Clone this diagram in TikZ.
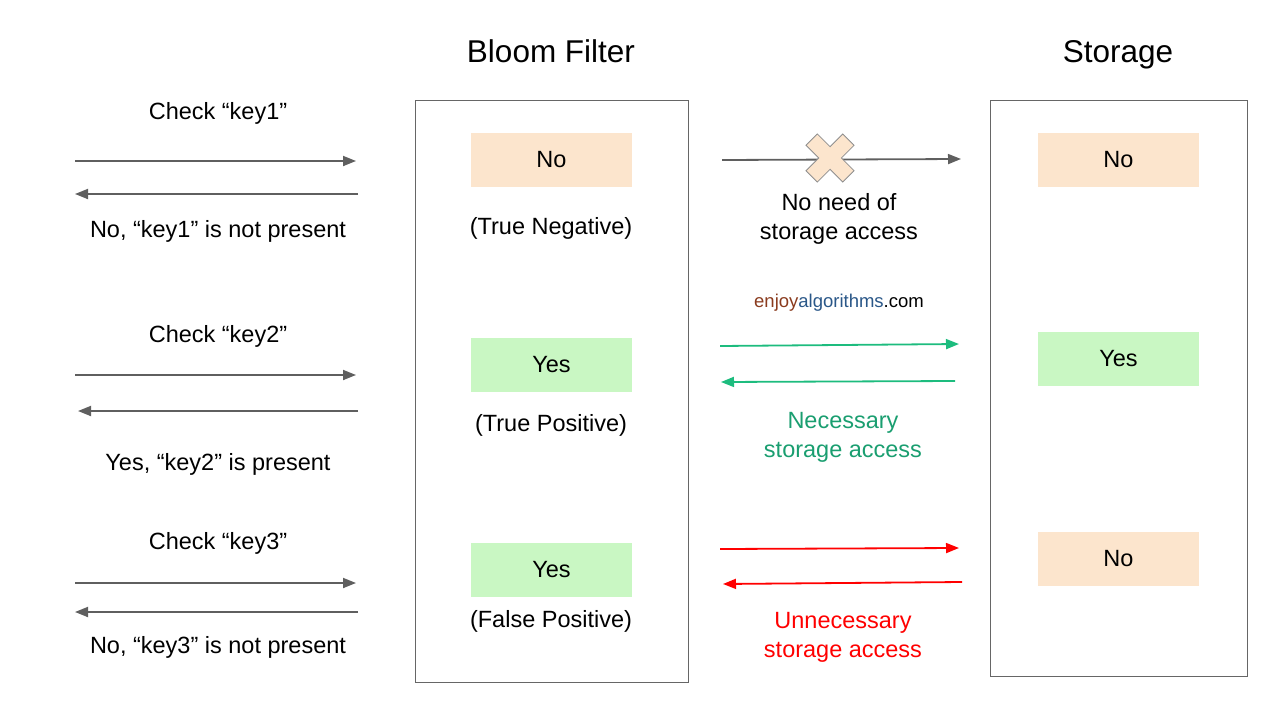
\documentclass[tikz,border=0pt]{standalone}
\usepackage{fontspec}
\setmainfont{Liberation Sans}
\usetikzlibrary{arrows.meta}
\definecolor{peach}{HTML}{FCE5CD}
\definecolor{lgreen}{HTML}{C9F7C3}
\definecolor{arrgray}{HTML}{5F5F5F}
\definecolor{framegray}{HTML}{666666}
\definecolor{okgreen}{HTML}{1DBC7E}
\definecolor{okgreentxt}{HTML}{1A9E70}
\definecolor{badred}{HTML}{FF0000}
\definecolor{brownc}{HTML}{8A3B1E}
\definecolor{bluec}{HTML}{2A5788}
\begin{document}
\begin{tikzpicture}[x=1pt,y=-1pt,
  lbl/.style={font=\fontsize{23.5}{29}\selectfont, align=center, inner sep=0pt},
  bl/.style={lbl, anchor=base},
  ttl/.style={font=\fontsize{31.5}{38}\selectfont, inner sep=0pt, anchor=base},
  frame/.style={draw=framegray, line width=1pt, inner sep=0pt},
  resbox/.style={minimum width=161pt, minimum height=54pt, inner sep=0pt, font=\fontsize{23.5}{29}\selectfont},
  nobox/.style={resbox, fill=peach},
  yesbox/.style={resbox, fill=lgreen},
  arr/.style={line width=1.8pt, -{Triangle[length=13pt,width=10pt]}},
  grayarr/.style={arr, draw=arrgray, arrows={-{Triangle[length=13pt,width=10pt,fill=arrgray]}}},
  greenarr/.style={arr, draw=okgreen},
  redarr/.style={arr, draw=badred},
]
\useasboundingbox (0,0) rectangle (1280,720);

% titles
\node[ttl] (tbf) at (551,62) {Bloom Filter};
\node[ttl] (tst) at (1118,62) {Storage};

% frames
\node[frame, minimum width=273pt, minimum height=582pt] (bf) at (551.5,391) {};
\node[frame, minimum width=257pt, minimum height=576pt] (st) at (1118.5,388) {};

% bloom filter results
\node[nobox] (bf1) at (551.5,160) {No};
\node[yesbox] (bf2) at (551.5,365) {Yes};
\node[yesbox] (bf3) at (551.5,570) {Yes};
\node[bl] (bfl1) at (551,234) {(True Negative)};
\node[bl] (bfl2) at (551,431) {(True Positive)};
\node[bl] (bfl3) at (551,627) {(False Positive)};

% storage results
\node[nobox] (st1) at (1118.5,160) {No};
\node[yesbox] (st2) at (1118.5,359) {Yes};
\node[nobox] (st3) at (1118.5,559) {No};

% left side labels
\node[bl] (q1) at (218,119) {Check “key1”};
\node[bl] (a1) at (218,237) {No, “key1” is not present};
\node[bl] (q2) at (218,342) {Check “key2”};
\node[bl] (a2) at (218,470) {Yes, “key2” is present};
\node[bl] (q3) at (218,549) {Check “key3”};
\node[bl] (a3) at (218,653) {No, “key3” is not present};

% left arrow end points
\coordinate (q1s) at (75,161);  \coordinate (q1e) at (356,161);
\coordinate (a1s) at (358,194); \coordinate (a1e) at (75,194);
\coordinate (q2s) at (75,375);  \coordinate (q2e) at (356,375);
\coordinate (a2s) at (358,411); \coordinate (a2e) at (78,411);
\coordinate (q3s) at (75,583);  \coordinate (q3e) at (356,583);
\coordinate (a3s) at (358,612); \coordinate (a3e) at (75,612);
\draw[grayarr] (q1s) -- (q1e);
\draw[grayarr] (a1s) -- (a1e);
\draw[grayarr] (q2s) -- (q2e);
\draw[grayarr] (a2s) -- (a2e);
\draw[grayarr] (q3s) -- (q3e);
\draw[grayarr] (a3s) -- (a3e);

% middle: no need of access
\coordinate (m1s) at (722,160); \coordinate (m1e) at (961,159);
\draw[grayarr] (m1s) -- (m1e);
\draw[fill=peach, draw=arrgray!70, line width=0.8pt, shift={(830,158)}, rotate=45]
  (8,8) -- (26,8) -- (26,-8) -- (8,-8) -- (8,-26) -- (-8,-26) -- (-8,-8)
  -- (-26,-8) -- (-26,8) -- (-8,8) -- (-8,26) -- (8,26) -- cycle;
\node[lbl] (m1l) at (839,219) {No need of\\storage access};

% watermark
\node[inner sep=0pt, anchor=base, font=\fontsize{18.5}{22}\selectfont] (wm) at (839,307)
  {\textcolor{brownc}{enjoy}\textcolor{bluec}{algorithms}.com};

% middle: necessary access
\coordinate (m2s) at (720,346); \coordinate (m2e) at (959,344);
\coordinate (m2bs) at (955,381); \coordinate (m2be) at (721,382);
\draw[greenarr] (m2s) -- (m2e);
\draw[greenarr] (m2bs) -- (m2be);
\node[lbl, text=okgreentxt] (m2l) at (843,437) {Necessary\\storage access};

% middle: unnecessary access
\coordinate (m3s) at (720,549); \coordinate (m3e) at (959,548);
\coordinate (m3bs) at (962,582); \coordinate (m3be) at (723,584);
\draw[redarr] (m3s) -- (m3e);
\draw[redarr] (m3bs) -- (m3be);
\node[lbl, text=badred] (m3l) at (843,637) {Unnecessary\\storage access};
\end{tikzpicture}
\end{document}
